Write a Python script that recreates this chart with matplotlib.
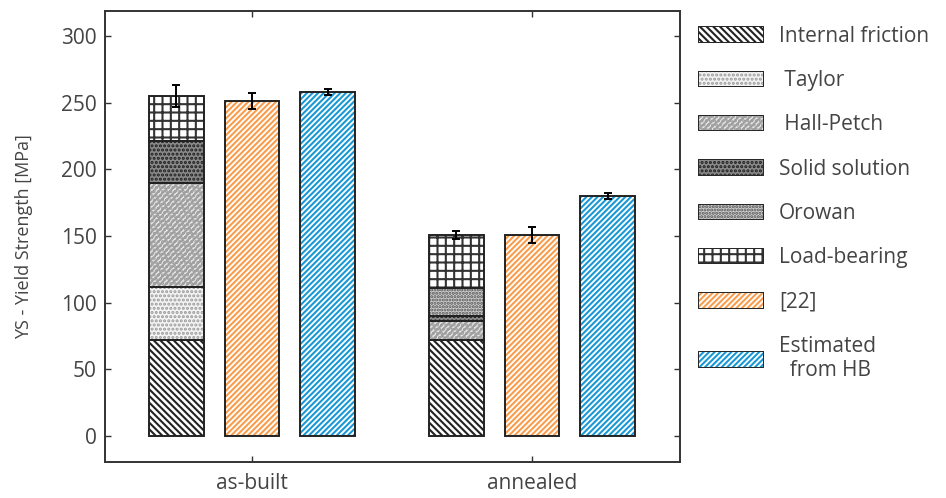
import matplotlib.pyplot as plt
from matplotlib.patches import Patch

conditions = ["as-built", "annealed"]
components = ["Internal friction", "Taylor", "Hall-Petch", "Solid solution", "Orowan", "Load-bearing"]
# contribution of each mechanism, as-built / annealed [MPa]
internal_friction = [72, 72]
taylor = [40, 0]
hall_petch = [78, 14]
solid_solution = [31, 4]
orowan = [0, 21]
load_bearing = [34, 40]
model_err = [8, 3]
ref22 = [251, 151]
ref22_err = [6, 6]
est_hb = [258, 180]
est_hb_err = [2, 2]

plt.rcParams['font.family'] = ['Open Sans', 'DejaVu Sans']
plt.rcParams['hatch.linewidth'] = 1.5

grey_txt = '#444444'
orange = '#f99d4d'
blue = '#1a98d5'

# (face, hatch, hatch colour)
styles = [
    ('white', '\\\\\\\\\\', '#222222'),
    ('#f4f4f4', '....', '#9a9a9a'),
    ('#e6e6e6', '//////....', '#a0a0a0'),
    ('#8a8a8a', '....', '#1e1e1e'),
    ('#cfcfcf', '.....', '#555555'),
    ('white', '++', '#333333'),
]
bar_hatch = '//////'

fig = plt.figure(figsize=(9.46, 4.98), dpi=100)
ax = fig.add_axes([0.111, 0.072, 0.608, 0.906])

x = [0, 1]
off = 0.27
w = 0.196
stack = [internal_friction, taylor, hall_petch, solid_solution, orowan, load_bearing]
bottom = [0, 0]
for vals, (fc, h, hc) in zip(stack, styles):
    ax.bar([xi - off for xi in x], vals, w, bottom=bottom, color=fc, hatch=h,
           edgecolor=hc, linewidth=0, zorder=2)
    ax.bar([xi - off for xi in x], vals, w, bottom=bottom, fill=False,
           edgecolor='#222222', linewidth=1.4, zorder=3)
    bottom = [b + v for b, v in zip(bottom, vals)]
ax.errorbar([xi - off for xi in x], bottom, yerr=model_err, fmt='none',
            ecolor='black', capsize=3, elinewidth=1.4, capthick=1.4, zorder=4)

for xs, vals, err, col in [([xi for xi in x], ref22, ref22_err, orange),
                           ([xi + off for xi in x], est_hb, est_hb_err, blue)]:
    ax.bar(xs, vals, w, color='white', hatch=bar_hatch, edgecolor=col, linewidth=0, zorder=2)
    ax.bar(xs, vals, w, fill=False, edgecolor='#222222', linewidth=1.4, zorder=3)
    ax.errorbar(xs, vals, yerr=err, fmt='none', ecolor='black', capsize=3,
                elinewidth=1.4, capthick=1.4, zorder=4)

ax.set_xlim(-0.525, 1.529)
ax.set_ylim(-19.5, 318.75)
ax.set_yticks([0, 50, 100, 150, 200, 250, 300])
ax.set_xticks(x)
ax.set_xticklabels(conditions)
ax.tick_params(direction='in', top=True, right=True, length=4, width=1,
               labelsize=15, colors='#333333', labelcolor=grey_txt, pad=6)
ax.tick_params(axis='x', pad=8)
for s in ax.spines.values():
    s.set_color('#333333')
    s.set_linewidth(1.4)
ax.set_ylabel("YS - Yield Strength [MPa]", fontsize=13, color=grey_txt, labelpad=20)

handles = []
for fc, h, hc in styles:
    handles.append(Patch(facecolor=fc, hatch=h, edgecolor=hc, linewidth=0))
handles.append(Patch(facecolor='white', hatch=bar_hatch, edgecolor=orange, linewidth=0))
handles.append(Patch(facecolor='white', hatch=bar_hatch, edgecolor=blue, linewidth=0))
labels = ["Internal friction", " Taylor", " Hall-Petch", "Solid solution", "Orowan",
          "Load-bearing", "[22]", "Estimated\n  from HB"]
leg = fig.legend(handles, labels, loc='upper left', bbox_to_anchor=(0.73, 0.965),
                 frameon=False, fontsize=15, handlelength=3.1, handleheight=0.7,
                 handletextpad=0.75, labelspacing=1.12, borderaxespad=0)
for t in leg.get_texts():
    t.set_color(grey_txt)
for p in leg.get_patches():
    p.set_linewidth(0)

# outline the legend keys
fig.canvas.draw()
for p in leg.get_patches():
    bb = p.get_window_extent()
    fig.patches.append(plt.Rectangle((bb.x0, bb.y0), bb.width, bb.height, fill=False,
                                     edgecolor='#222222', linewidth=1.4,
                                     transform=None, figure=fig))

fig.savefig('out.png', dpi=100)
